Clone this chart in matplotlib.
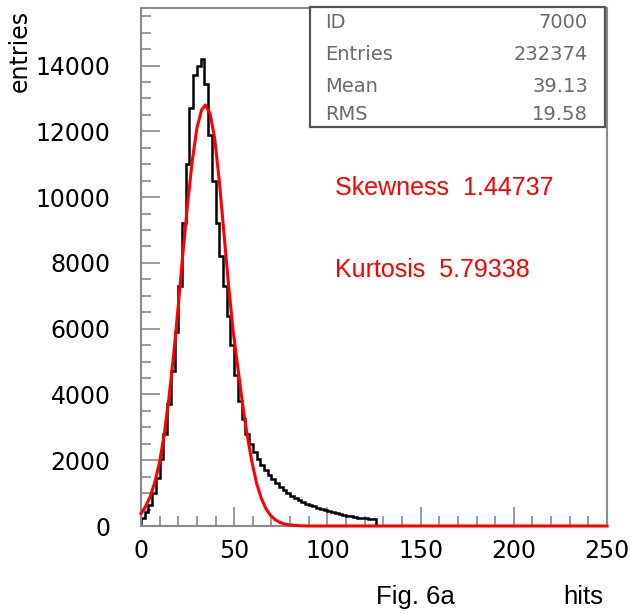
import matplotlib
matplotlib.use("Agg")
import matplotlib.pyplot as plt
import numpy as np

# histogram: 2-hit bins from 0 to 126
bin_edges = np.arange(0, 128, 2)
hist_counts = [250, 420, 650, 1000, 1450, 2050, 2800, 3700, 4700, 5900,
               7300, 9200, 11000, 12700, 13700, 14000, 14200,
               13450, 11900, 10500, 9200, 8200, 7300, 6400, 5500, 4600, 3800,
               3250, 2800, 2500, 2250, 2050, 1850, 1700, 1560, 1430, 1300,
               1200, 1100, 1000, 920, 850, 780, 730, 680, 640, 600,
               560, 520, 490, 450, 420, 390, 360, 330, 310, 290,
               270, 250, 240, 230, 220, 220]

# fitted curve
fit_x = [0, 2.5, 5, 7.5, 10, 12.5, 15, 17.5, 20, 22.5, 25, 27.5, 30, 32.5, 34.5,
         37, 39.5, 42, 44.5, 47, 49.5, 52, 54.5, 57, 59.5, 62, 64.5, 67, 69.5,
         72, 74.5, 77, 80, 85, 90, 250]
fit_y = [380, 600, 900, 1350, 1950, 2800, 3900, 5200, 6700, 8300, 9800, 11100,
         12100, 12650, 12800, 12550, 11800, 10500, 8900, 7300, 5900, 4800, 3700,
         2750, 1950, 1300, 850, 530, 320, 190, 110, 60, 30, 8, 0, 0]

stats_names = ["ID", "Entries", "Mean", "RMS"]
stats_values = ["7000", "232374", "39.13", "19.58"]

W, H = 630, 613
fig = plt.figure(figsize=(W / 100, H / 100), dpi=100)
ax = fig.add_axes([141 / W, 1 - 526 / H, (607 - 141) / W, (526 - 8) / H])

ax.stairs(hist_counts, bin_edges, color="black", lw=1.8, baseline=0, zorder=2)
ax.plot(fit_x, fit_y, color="red", lw=2.2, zorder=3, clip_on=False)

ax.set_xlim(0, 250)
ax.set_ylim(0, 15750)
ax.set_xticks([0, 50, 100, 150, 200, 250])
ax.set_xticks(np.arange(0, 251, 10), minor=True)
ax.set_yticks(np.arange(0, 14001, 2000))
ax.set_yticks(np.arange(0, 15501, 500), minor=True)

for s in ax.spines.values():
    s.set_color("#8a8a8a")
    s.set_linewidth(1.5)

ax.tick_params(which="both", direction="in", color="#8a8a8a", width=1.2,
               top=False, right=False)
ax.tick_params(which="major", length=14)
ax.tick_params(which="minor", length=7)
ax.tick_params(axis="y", which="major", pad=22, labelsize=17)
ax.tick_params(axis="x", which="major", pad=9, labelsize=17)

fig.text(20 / W, 1 - 10 / H, "entries", rotation=90, ha="center", va="top", fontsize=17)
fig.text(415 / W, 1 - 597 / H, "Fig. 6a", ha="center", va="center", fontsize=18.5,
         family="Liberation Sans")
fig.text(583 / W, 1 - 597 / H, "hits", ha="center", va="center", fontsize=18.5,
         family="Liberation Sans")

# stats box
box = plt.Rectangle((310 / W, 1 - 127 / H), (605 - 310) / W, (127 - 7) / H,
                    transform=fig.transFigure, fill=True, facecolor="white",
                    edgecolor="#555555", lw=1.6, zorder=5)
fig.add_artist(box)
row_y = [23, 55, 86, 115]
for name, val, yy in zip(stats_names, stats_values, row_y):
    fig.text(325 / W, 1 - yy / H, name, ha="left", va="center", fontsize=14,
             color="#6a6a6a", zorder=6)
    fig.text(588 / W, 1 - yy / H, val, ha="right", va="center", fontsize=14,
             color="#6a6a6a", zorder=6)

fig.text(335 / W, 1 - 188 / H, "Skewness  1.44737", ha="left", va="center",
         fontsize=18, color="red", family="Liberation Sans")
fig.text(335 / W, 1 - 270 / H, "Kurtosis  5.79338", ha="left", va="center",
         fontsize=18, color="red", family="Liberation Sans")

fig.savefig("out.png", dpi=100)
